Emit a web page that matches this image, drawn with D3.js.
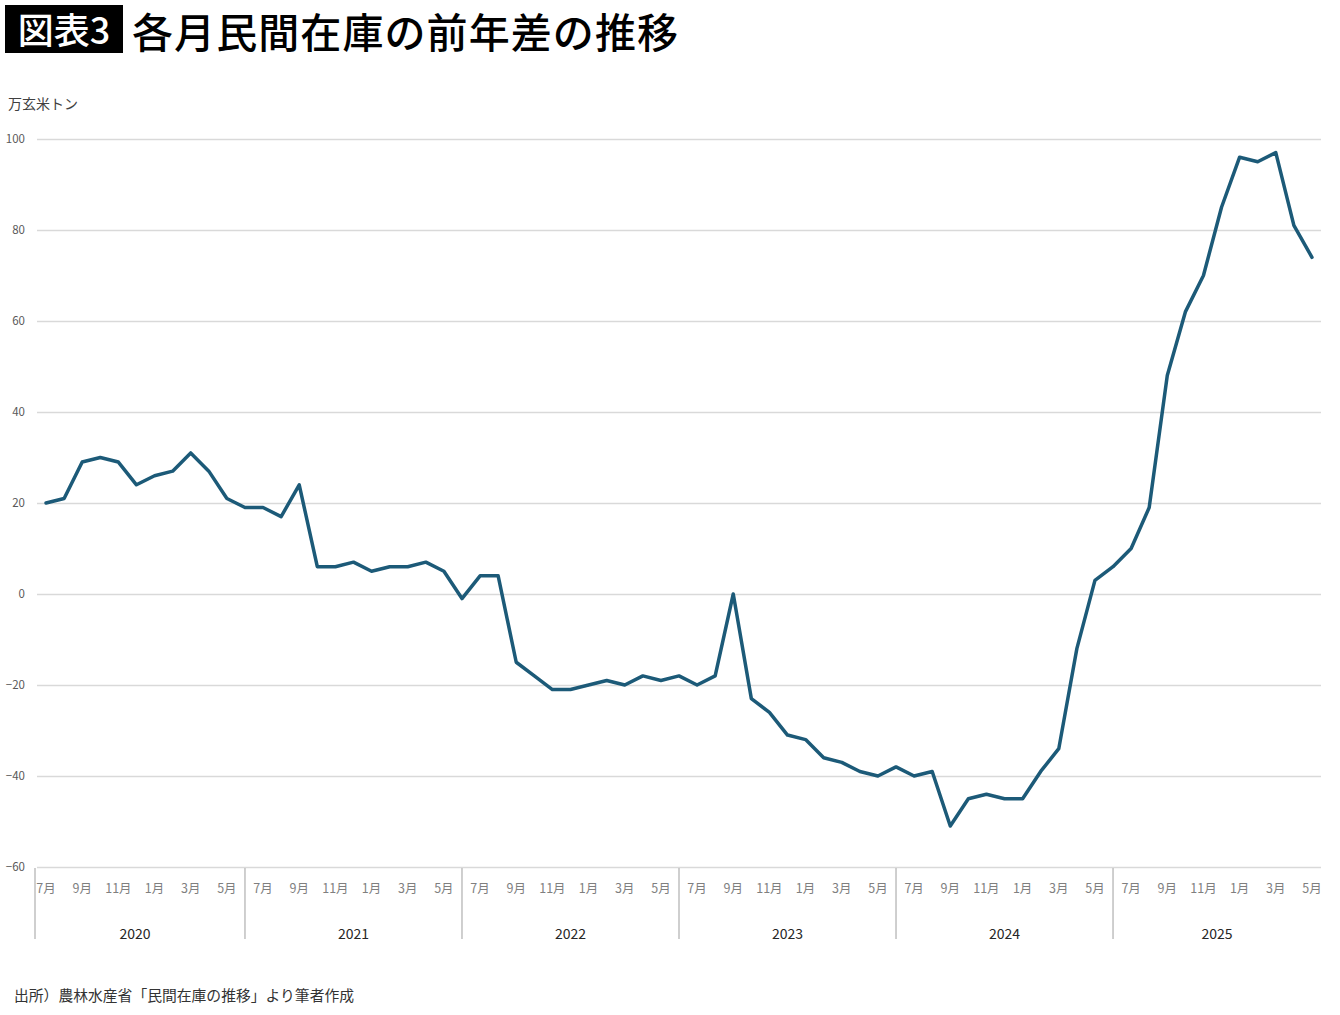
<!DOCTYPE html>
<html>
<head>
<meta charset="utf-8">
<script src="https://cdn.jsdelivr.net/npm/d3@7"></script>
<style>
  body { margin: 0; background: #fff; }
  svg text { font-family: "Noto Sans CJK JP", "Noto Sans", sans-serif; }
</style>
</head>
<body>
<svg id="chart" width="1340" height="1015"></svg>
<script>
// year groups on the category axis (last one only runs to May)
const years = ["2020", "2021", "2022", "2023", "2024", "2025"];
const monthsPerYear = [12, 12, 12, 12, 12, 11];
const monthLabels = ["7月", "8月", "9月", "10月", "11月", "12月", "1月", "2月", "3月", "4月", "5月", "6月"];

// 前年差 (万玄米トン), July 2020 .. May 2026
const values = [
  20, 21, 29, 30, 29, 24, 26, 27, 31, 27, 21, 19,
  19, 17, 24, 6, 6, 7, 5, 6, 6, 7, 5, -1,
  4, 4, -15, -18, -21, -21, -20, -19, -20, -18, -19, -18,
  -20, -18, 0, -23, -26, -31, -32, -36, -37, -39, -40, -38,
  -40, -39, -51, -45, -44, -45, -45, -39, -34, -12, 3, 6,
  10, 19, 48, 62, 70, 85, 96, 95, 97, 81, 74
];
const yTicks = [-60, -40, -20, 0, 20, 40, 60, 80, 100];

// build the category list from the groups
const categories = [];
years.forEach((y, gi) => {
  for (let m = 0; m < monthsPerYear[gi]; m++) {
    categories.push({ key: y + "-" + m, year: y, month: monthLabels[m], idx: m });
  }
});
const data = categories.map((c, i) => ({ ...c, value: values[i] }));

const svg = d3.select("#chart");

// title block
svg.append("rect").attr("x", 5).attr("y", 5).attr("width", 118).attr("height", 48).attr("fill", "#000");
svg.append("text").attr("x", 64).attr("y", 44).attr("text-anchor", "middle")
    .attr("fill", "#fff").attr("font-size", 36).attr("font-weight", 500).text("図表3");
svg.append("text").attr("x", 132).attr("y", 48)
    .attr("fill", "#000").attr("font-size", 41).attr("font-weight", 500)
    .attr("textLength", 546).attr("lengthAdjust", "spacing")
    .text("各月民間在庫の前年差の推移");

svg.append("text").attr("x", 8).attr("y", 109)
    .attr("fill", "#404040").attr("font-size", 14).text("万玄米トン");

const x0 = 37, x1 = 1321;
const xScale = d3.scaleBand().domain(categories.map(d => d.key)).range([x0, x1]).padding(0);
const yScale = d3.scaleLinear().domain([-60, 100]).range([867, 139]);
const cx = k => xScale(k) + xScale.bandwidth() / 2;

// gridlines + y labels
const yAxis = d3.axisLeft(yScale).tickValues(yTicks).tickSize(-(x1 - x0)).tickPadding(12);
svg.append("g").attr("transform", `translate(${x0},0)`).call(yAxis)
    .call(g => g.select(".domain").remove())
    .call(g => g.selectAll(".tick line").attr("stroke", "#d9d9d9").attr("stroke-width", 1.5))
    .call(g => g.selectAll(".tick text").attr("fill", "#595959").attr("font-size", 11.5)
        .attr("font-family", "'Noto Sans CJK JP', sans-serif"));

// month labels, every other month
const xAxis = d3.axisBottom(xScale)
    .tickValues(categories.filter(d => d.idx % 2 === 0).map(d => d.key))
    .tickFormat(k => categories.find(c => c.key === k).month)
    .tickSize(0).tickPadding(17);
svg.append("g").attr("transform", "translate(0,867)").call(xAxis)
    .call(g => g.select(".domain").remove())
    .call(g => g.selectAll(".tick text").attr("fill", "#7f7f7f").attr("font-size", 12.5)
        .attr("font-family", "'Noto Sans CJK JP', sans-serif"));

// year group dividers and labels
const groupStarts = [];
let acc = 0;
monthsPerYear.forEach(n => { groupStarts.push(acc); acc += n; });
const dividers = [x0 - 2].concat(groupStarts.slice(1).map(s => cx(categories[s - 1].key)));
svg.append("g").selectAll("line").data(dividers).join("line")
    .attr("x1", d => d).attr("x2", d => d).attr("y1", 868).attr("y2", 939)
    .attr("stroke", "#bfbfbf").attr("stroke-width", 1.5);
const bounds = dividers.concat([x1]);
svg.append("g").selectAll("text").data(years).join("text")
    .attr("x", (d, i) => (bounds[i] + bounds[i + 1]) / 2 + (i === 0 ? -5 : 0))
    .attr("y", 939).attr("text-anchor", "middle")
    .attr("fill", "#262626").attr("font-size", 14).text(d => d);

// line
const line = d3.line().x(d => cx(d.key)).y(d => yScale(d.value));
svg.append("path").datum(data).attr("d", line)
    .attr("fill", "none").attr("stroke", "#1c5a78").attr("stroke-width", 3.5)
    .attr("stroke-linejoin", "round").attr("stroke-linecap", "round");

// source
svg.append("text").attr("x", 14).attr("y", 1001)
    .attr("fill", "#333").attr("font-size", 14.8).text("出所）農林水産省「民間在庫の推移」より筆者作成");
</script>
</body>
</html>
